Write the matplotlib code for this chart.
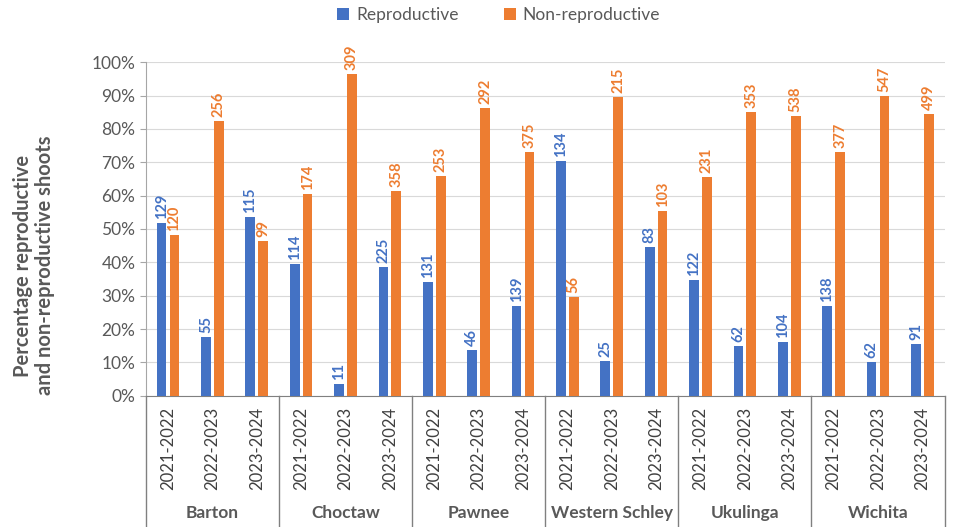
import matplotlib
matplotlib.use("Agg")
import matplotlib.pyplot as plt
import matplotlib.transforms as mtransforms
from matplotlib.patches import Patch
from matplotlib.ticker import PercentFormatter
import numpy as np

plt.rcParams["font.family"] = ["Lato", "DejaVu Sans"]

BLUE = "#4472C4"
ORANGE = "#ED7D31"
TEXT = "#595959"
GRID = "#D9D9D9"
AXIS = "#A6A6A6"

sites = ["Barton", "Choctaw", "Pawnee", "Western Schley", "Ukulinga", "Wichita"]
seasons = ["2021-2022", "2022-2023", "2023-2024"]

# shoot counts per site/season, in site order then season order
repro_counts = [129, 55, 115, 114, 11, 225, 131, 46, 139,
                134, 25, 83, 122, 62, 104, 138, 62, 91]
nonrepro_counts = [120, 256, 99, 174, 309, 358, 253, 292, 375,
                   56, 215, 103, 231, 353, 538, 377, 547, 499]

repro = np.array(repro_counts, dtype=float)
nonrepro = np.array(nonrepro_counts, dtype=float)
total = repro + nonrepro
repro_pct = repro / total
nonrepro_pct = nonrepro / total

n = len(repro)
x = np.arange(n)
bw = 0.22
off = 0.145

fig = plt.figure(figsize=(9.59, 5.27), dpi=100)
ax = fig.add_axes([0.152, 0.249, 0.833, 0.633])

ax.bar(x - off, repro_pct, bw, color=BLUE, zorder=3)
ax.bar(x + off, nonrepro_pct, bw, color=ORANGE, zorder=3)

for xi, p, c in zip(x, repro_pct, repro_counts):
    ax.text(xi - off, p + 0.012, str(c), rotation=90, ha="center", va="bottom",
            fontsize=10.5, color=BLUE, fontweight="bold")
for xi, p, c in zip(x, nonrepro_pct, nonrepro_counts):
    ax.text(xi + off, p + 0.012, str(c), rotation=90, ha="center", va="bottom",
            fontsize=10.5, color=ORANGE, fontweight="bold")

ax.set_xlim(-0.5, n - 0.5)
ax.set_ylim(0, 1.0)
ax.set_yticks(np.arange(0, 1.01, 0.1))
ax.yaxis.set_major_formatter(PercentFormatter(1.0, decimals=0))
ax.tick_params(axis="y", labelsize=12.5, colors=TEXT, length=4, color=AXIS)
ax.grid(axis="y", color=GRID, linewidth=0.8, zorder=0)
ax.set_axisbelow(True)

ax.set_xticks(x)
ax.set_xticklabels(seasons * len(sites), rotation=90, fontsize=12, color="#404040")
ax.tick_params(axis="x", length=0, pad=8)

for side in ["top", "right"]:
    ax.spines[side].set_visible(False)
ax.spines["left"].set_color(AXIS)
ax.spines["bottom"].set_color("#808080")

# group separators and site labels below the axis
trans = mtransforms.blended_transform_factory(ax.transData, ax.transAxes)
for g in range(len(sites) + 1):
    xb = g * 3 - 0.5
    ax.plot([xb, xb], [0, -0.39], transform=trans, color="#808080",
            linewidth=1, clip_on=False)
for g, site in enumerate(sites):
    ax.text(g * 3 + 1, -0.35, site, transform=trans, ha="center", va="center",
            fontsize=12.5, fontweight="bold", color=TEXT)

ax.set_ylabel("Percentage reproductive\nand non-reproductive shoots",
              fontsize=14.5, fontweight="bold", color=TEXT, linespacing=1.15)
ax.yaxis.set_label_coords(-0.113, 0.39)

handles = [Patch(facecolor=BLUE, label="Reproductive"),
           Patch(facecolor=ORANGE, label="Non-reproductive")]
fig.legend(handles=handles, loc="center", bbox_to_anchor=(0.52, 0.972), ncol=2,
           frameon=False, fontsize=12.5, labelcolor=TEXT, handlelength=0.7,
           handleheight=0.7, columnspacing=2.6, handletextpad=0.4)

fig.savefig("out.png", dpi=100, facecolor="white")
